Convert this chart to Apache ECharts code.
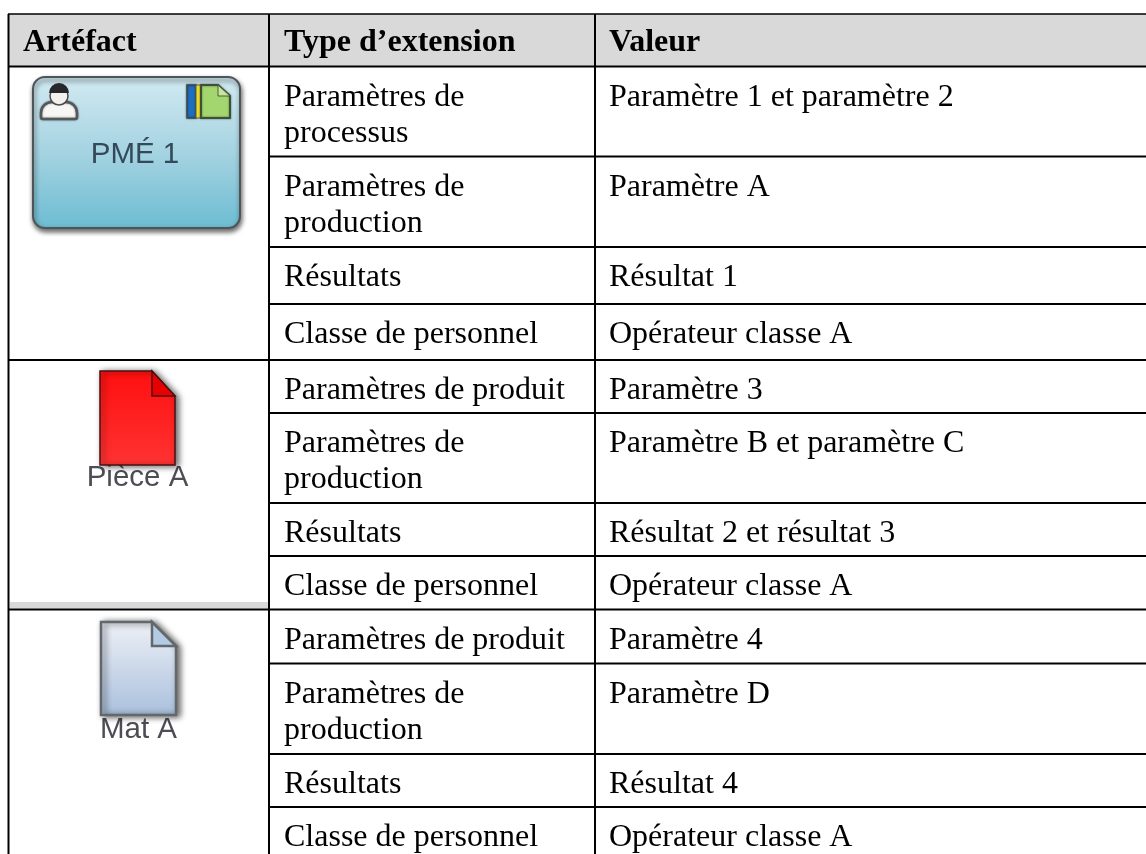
<!DOCTYPE html>
<html>
<head>
<meta charset="utf-8">
<title>Extensions des artéfacts</title>
<script src="https://cdn.jsdelivr.net/npm/echarts@6/dist/echarts.min.js"></script>
<style>
  html, body { margin: 0; padding: 0; background: #fff; }
  #chart { width: 1146px; height: 854px; }
</style>
</head>
<body>
<div id="chart"></div>
<script>
// table content
const headers = ["Artéfact", "Type d’extension", "Valeur"];
const types = [
  ["Paramètres de", "processus"],
  ["Paramètres de", "production"],
  ["Résultats"],
  ["Classe de personnel"],
  ["Paramètres de produit"],
  ["Paramètres de", "production"],
  ["Résultats"],
  ["Classe de personnel"],
  ["Paramètres de produit"],
  ["Paramètres de", "production"],
  ["Résultats"],
  ["Classe de personnel"]
];
const values = [
  "Paramètre 1 et paramètre 2",
  "Paramètre A",
  "Résultat 1",
  "Opérateur classe A",
  "Paramètre 3",
  "Paramètre B et paramètre C",
  "Résultat 2 et résultat 3",
  "Opérateur classe A",
  "Paramètre 4",
  "Paramètre D",
  "Résultat 4",
  "Opérateur classe A"
];
const artefactLabels = ["PMÉ 1", "Pièce A", "Mat A"];

// table layout, in page pixels
const colX = [9, 269, 595, 1146];
const headerY = [14, 66.5];
const rowBottom = [156.5, 247, 304, 360, 413, 503, 556, 609.5, 663.5, 754, 807, 870];
const groupEnd = [3, 7, 11];
const serif = "'Liberation Serif', 'Times New Roman', serif";
const sans = "'Liberation Sans', Arial, sans-serif";
const bodyFont = "32px " + serif;
const headFont = "bold 32px " + serif;
const lineGap = 36;
const firstBaseline = 31;

function textEl(api, x, y, text, font) {
  const p = api.coord([x, y]);
  return {
    type: "text",
    style: {text: text, x: p[0], y: p[1], font: font, fill: "#000", textAlign: "left", textVerticalAlign: "middle"}
  };
}

function lineEl(api, x1, y1, x2, y2, w) {
  const a = api.coord([x1, y1]);
  const b = api.coord([x2, y2]);
  return {
    type: "line",
    shape: {x1: a[0], y1: a[1], x2: b[0], y2: b[1]},
    style: {stroke: "#000", lineWidth: w}
  };
}

function renderRow(params, api) {
  const i = api.value(0);
  const top = i === 0 ? headerY[1] : rowBottom[i - 1];
  const bottom = rowBottom[i];
  const lines = types[i];
  const children = [];
  lines.forEach(function (t, n) {
    children.push(textEl(api, colX[1] + 15, top + firstBaseline + n * lineGap, t, bodyFont));
  });
  children.push(textEl(api, colX[2] + 14, top + firstBaseline, values[i], bodyFont));
  const fromX = groupEnd.indexOf(i) >= 0 ? colX[0] - 1 : colX[1];
  children.push(lineEl(api, fromX, bottom, colX[3], bottom, 2));
  return {type: "group", children: children};
}

function renderHeader(params, api) {
  const tl = api.coord([colX[0], headerY[0]]);
  const br = api.coord([colX[3], headerY[1]]);
  return {
    type: "group",
    children: [
      {type: "rect", shape: {x: tl[0], y: tl[1], width: br[0] - tl[0], height: br[1] - tl[1]}, style: {fill: "#d9d9d9"}},
      textEl(api, 23, 42.5, headers[0], headFont),
      textEl(api, colX[1] + 15, 42.5, headers[1], headFont),
      textEl(api, colX[2] + 14, 42.5, headers[2], headFont),
      lineEl(api, colX[0] - 1, headerY[0], colX[3], headerY[0], 1.5),
      lineEl(api, colX[0] - 1, headerY[1], colX[3], headerY[1], 2),
      lineEl(api, colX[0] - 0.5, headerY[0], colX[0] - 0.5, 854, 2),
      lineEl(api, colX[1], headerY[0], colX[1], 854, 2),
      lineEl(api, colX[2], headerY[0], colX[2], 854, 2)
    ]
  };
}

function docIcon(left, top, right, bottom, foldX, foldY, fillTop, fillBottom, foldFill, edge, edgeWidth, label, labelY) {
  return {
    type: "group",
    z: 10,
    children: [
      {
        type: "text",
        style: {
          text: label, x: (left + right) / 2, y: labelY, font: "29.5px " + sans, fill: "#4d4d54",
          textAlign: "center", textVerticalAlign: "middle",
          shadowBlur: 3, shadowColor: "rgba(80,80,85,0.8)"
        }
      },
      {
        type: "polygon",
        shape: {points: [[left, top], [foldX, top], [right, foldY], [right, bottom], [left, bottom]]},
        style: {
          fill: {type: "linear", x: 0, y: 0, x2: 0, y2: 1, colorStops: [{offset: 0, color: fillTop}, {offset: 1, color: fillBottom}]},
          stroke: edge, lineWidth: edgeWidth,
          shadowBlur: 6, shadowColor: "rgba(0,0,0,0.6)", shadowOffsetX: 3, shadowOffsetY: 1
        }
      },
      {
        type: "polygon",
        shape: {points: [[foldX, top], [right, foldY], [foldX, foldY]]},
        style: {fill: foldFill, stroke: edge, lineWidth: edgeWidth}
      }
    ]
  };
}

const iconGraphics = [
  // PME box
  {
    type: "rect", z: 10,
    shape: {x: 33, y: 77, width: 207, height: 151, r: 12},
    style: {
      fill: {type: "linear", x: 0, y: 0, x2: 0, y2: 1, colorStops: [{offset: 0, color: "#d2eaf2"}, {offset: 0.5, color: "#a5d3e1"}, {offset: 1, color: "#6cbcd2"}]},
      stroke: "#4d5558", lineWidth: 2,
      shadowBlur: 5, shadowColor: "rgba(0,0,0,0.6)", shadowOffsetX: 1, shadowOffsetY: 3
    }
  },
  // person
  {
    type: "rect", z: 11,
    shape: {x: 41, y: 102, width: 36, height: 17, r: [11, 11, 2, 2]},
    style: {fill: "#f6f6f4", stroke: "#55585a", lineWidth: 2.5, shadowBlur: 2, shadowColor: "rgba(0,0,0,0.5)"}
  },
  {type: "circle", z: 11, shape: {cx: 59, cy: 96, r: 9}, style: {fill: "#f3f1ee", stroke: "#4a4a4a", lineWidth: 1.5}},
  {
    type: "sector", z: 11,
    shape: {cx: 59, cy: 93, r: 10, r0: 0, startAngle: Math.PI, endAngle: Math.PI * 2},
    style: {fill: "#26282a"}
  },
  // coloured binder
  {type: "rect", z: 11, shape: {x: 187, y: 85, width: 9, height: 33}, style: {fill: "#1e6fc0", stroke: "#3d4a50", lineWidth: 1.5, shadowBlur: 2, shadowColor: "rgba(0,0,0,0.5)"}},
  {type: "rect", z: 11, shape: {x: 196, y: 85, width: 5, height: 33}, style: {fill: "#e9de2c", stroke: "#5b5f3a", lineWidth: 1}},
  {
    type: "polygon", z: 11,
    shape: {points: [[201, 85], [218, 85], [230, 96], [230, 118], [201, 118]]},
    style: {fill: "#a3d66e", stroke: "#3f4f38", lineWidth: 2, shadowBlur: 2, shadowColor: "rgba(0,0,0,0.5)"}
  },
  {type: "polygon", z: 11, shape: {points: [[218, 85], [230, 96], [218, 96]]}, style: {fill: "#c4e79a", stroke: "#4a5a40", lineWidth: 1}},
  {
    type: "text", z: 12,
    style: {
      text: artefactLabels[0], x: 135, y: 155, font: "29.5px " + sans, fill: "#34495a",
      textAlign: "center", textVerticalAlign: "middle",
      shadowBlur: 3, shadowColor: "rgba(50,70,80,0.9)"
    }
  },
  // grey strip under the second cell
  {type: "rect", z: 1, shape: {x: 10, y: 602, width: 258, height: 6.5}, style: {fill: "#d9d9d9"}},
  docIcon(100, 371, 175, 465, 152, 396, "#ff0f0f", "#ff3333", "#e80000", "#4a1010", 1.5, artefactLabels[1], 478),
  docIcon(101, 622, 176, 715, 152, 646, "#eef1f7", "#a9bfdc", "#b4cbe4", "#62686c", 2.5, artefactLabels[2], 730)
];

const chart = echarts.init(document.getElementById("chart"));
chart.setOption({
  animation: false,
  backgroundColor: "#fff",
  grid: {left: 0, right: 0, top: 0, bottom: 0},
  xAxis: {type: "value", min: 0, max: 1146, show: false},
  yAxis: {type: "value", min: 0, max: 854, inverse: true, show: false},
  graphic: iconGraphics,
  series: [
    {type: "custom", renderItem: renderHeader, data: [[0]], silent: true, clip: true, encode: {x: 0}},
    {type: "custom", renderItem: renderRow, data: types.map(function (t, i) { return [i]; }), silent: true, clip: true, encode: {x: 0}}
  ]
});
</script>
</body>
</html>
